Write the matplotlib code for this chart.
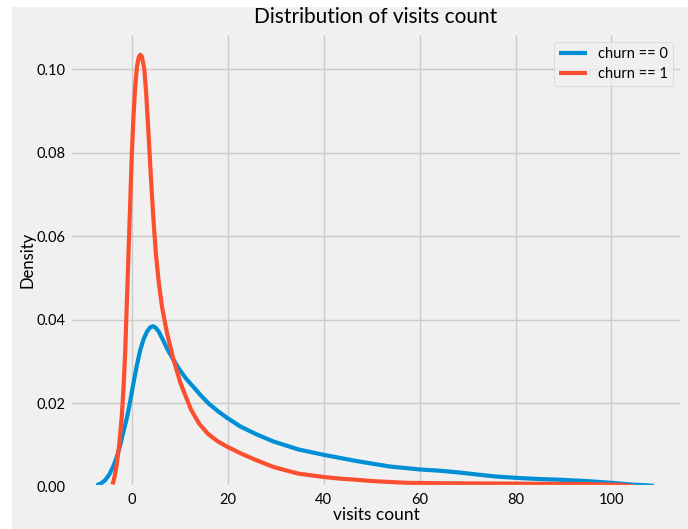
import matplotlib
matplotlib.use('Agg')
import matplotlib.pyplot as plt
from matplotlib.patches import Rectangle

# curve values (x = visits count, y = density)
churn0_x = [-7.4, -6.5, -5.6, -4.7, -3.9, -3.2, -2.5, -1.8, -1.05, -0.35, 0.35, 1.05,
            1.75, 2.45, 3.16, 3.8, 4.4, 5.0, 5.6, 6.5, 7.4, 8.7, 10.0, 11.4, 12.8,
            14.4, 16.0, 18.0, 19.8, 22.6, 26.0, 29.5, 34.7, 40.0, 46.9, 53.8, 60.0,
            64.2, 68.0, 72.7, 76.0, 80.0, 85.0, 90.0, 95.0, 100.0, 104.0, 108.8]
churn0_y = [0.0004, 0.0008, 0.0016, 0.0030, 0.0049, 0.0070, 0.0097, 0.0130, 0.0165,
            0.0205, 0.0250, 0.0292, 0.0328, 0.0354, 0.0372, 0.0382, 0.0385, 0.0381,
            0.0372, 0.0352, 0.0330, 0.0304, 0.0280, 0.0258, 0.0240, 0.0219, 0.0200,
            0.0181, 0.0166, 0.0145, 0.0126, 0.0109, 0.0090, 0.0077, 0.0062, 0.0049,
            0.0042, 0.0039, 0.0035, 0.0029, 0.0025, 0.0022, 0.0019, 0.0017, 0.0014,
            0.0010, 0.0006, 0.0003]

churn1_x = [-4.0, -3.6, -3.2, -2.6, -2.1, -1.75, -1.4, -1.05, -0.7, -0.35, 0.0, 0.35,
            0.7, 1.05, 1.4, 1.75, 2.1, 2.6, 3.0, 3.5, 4.0, 4.5, 5.0, 5.6, 6.3, 7.3,
            8.7, 10.1, 12.3, 14.0, 15.8, 17.8, 19.8, 22.6, 26.0, 29.5, 34.7, 40.0,
            43.4, 46.0, 50.4, 57.3, 64.2, 80.0, 95.0, 102.0, 105.0]
churn1_y = [0.0006, 0.0025, 0.0050, 0.0105, 0.0170, 0.0235, 0.0320, 0.0440, 0.0560,
            0.0680, 0.0800, 0.0890, 0.0960, 0.1005, 0.1028, 0.1035, 0.1030, 0.1000,
            0.0940, 0.0840, 0.0735, 0.0640, 0.0560, 0.0490, 0.0430, 0.0370, 0.0304,
            0.0250, 0.0186, 0.0152, 0.0128, 0.0110, 0.0097, 0.0081, 0.0064, 0.0048,
            0.0032, 0.0024, 0.0020, 0.0018, 0.0014, 0.0010, 0.0009, 0.0008, 0.0007,
            0.0005, 0.0001]

labels = ['churn == 0', 'churn == 1']

plt.style.use('fivethirtyeight')
plt.rcParams['font.family'] = ['Lato', 'DejaVu Sans']

fig = plt.figure(figsize=(6.88, 5.29), dpi=100, facecolor='white')
fig.patches.append(Rectangle((12 / 688, 0), 676 / 688, 522 / 529,
                             transform=fig.transFigure, facecolor='#f0f0f0',
                             edgecolor='none', zorder=-1))
ax = fig.add_axes([70 / 688, 1 - 487 / 529, 612 / 688, 454 / 529])
ax.set_facecolor('#f0f0f0')

ax.plot(churn0_x, churn0_y, color='#008fd5', lw=3, label=labels[0],
        solid_joinstyle='round')
ax.plot(churn1_x, churn1_y, color='#fc4f30', lw=3, label=labels[1],
        solid_joinstyle='round')

ax.set_xlim(-12.9, 114.7)
ax.set_ylim(0, 0.1087)
ax.set_xticks([0, 20, 40, 60, 80, 100])
ax.set_yticks([0.0, 0.02, 0.04, 0.06, 0.08, 0.10])
ax.set_yticklabels(['0.00', '0.02', '0.04', '0.06', '0.08', '0.10'])
ax.tick_params(labelsize=10.5, length=0, pad=4)
ax.tick_params(axis='y', pad=3)
ax.grid(True, color='#cbcbcb', lw=1)

ax.set_title('Distribution of visits count', fontsize=15, pad=7)
ax.set_xlabel('visits count', fontsize=12.5, labelpad=0)
ax.set_ylabel('Density', fontsize=12, labelpad=1)
ax.legend(loc='upper right', fontsize=10.5, handlelength=1.9, framealpha=0.8,
          borderaxespad=0.6, borderpad=0.35, labelspacing=0.4)

fig.savefig('out.png', dpi=100, facecolor='white')
